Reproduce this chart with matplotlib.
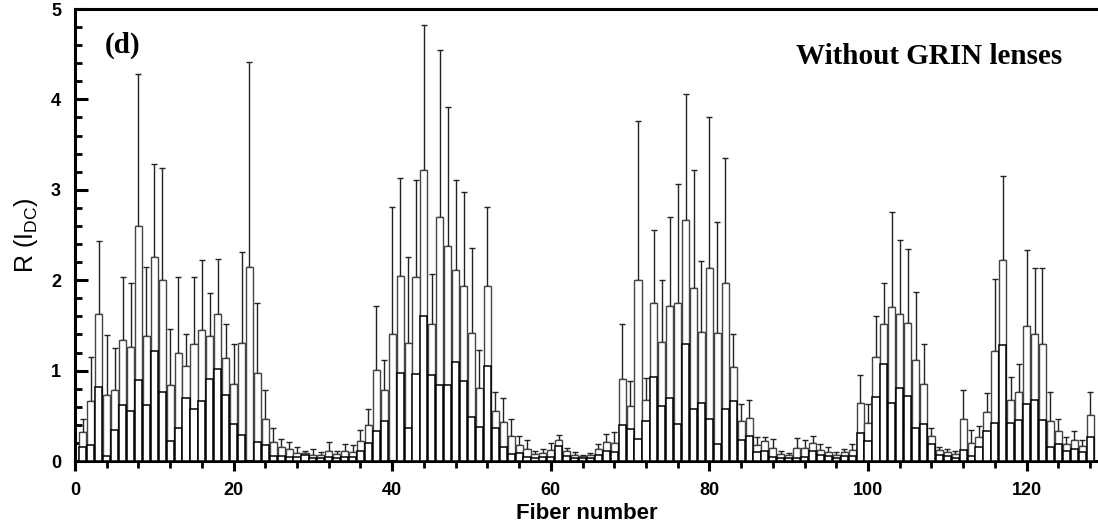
import numpy as np
import matplotlib
matplotlib.use("Agg")
import matplotlib.pyplot as plt
from matplotlib.ticker import MultipleLocator

# fiber index 1..128
fiber = np.arange(1, 129)

# mean R(I_DC) per fiber (tall open bars)
mean_r = [
    0.32, 0.665, 1.63, 0.73, 0.79, 1.34, 1.26, 2.595, 1.38, 2.26,
    2.00, 0.84, 1.20, 1.05, 1.29, 1.45, 1.38, 1.63, 1.135, 0.85,
    1.305, 2.15, 0.97, 0.47, 0.21, 0.15, 0.13, 0.09, 0.09, 0.065,
    0.065, 0.11, 0.08, 0.11, 0.10, 0.22, 0.40, 1.01, 0.78, 1.40,
    2.05, 1.31, 2.04, 3.22, 1.52, 2.70, 2.38, 2.11, 1.94, 1.42,
    0.81, 1.94, 0.555, 0.43, 0.28, 0.18, 0.13, 0.08, 0.09, 0.12,
    0.23, 0.11, 0.065, 0.055, 0.07, 0.13, 0.215, 0.20, 0.905, 0.61,
    2.00, 0.68, 1.745, 1.32, 1.71, 1.745, 2.67, 1.91, 1.43, 2.14,
    1.42, 1.97, 1.035, 0.44, 0.48, 0.18, 0.22, 0.14, 0.08, 0.065,
    0.14, 0.14, 0.20, 0.12, 0.10, 0.07, 0.10, 0.12, 0.64, 0.425,
    1.15, 1.52, 1.70, 1.63, 1.53, 1.12, 0.85, 0.28, 0.12, 0.10,
    0.08, 0.46, 0.20, 0.27, 0.54, 1.22, 2.225, 0.67, 0.76, 1.49,
    1.41, 1.29, 0.44, 0.33, 0.185, 0.23, 0.165, 0.51,
]

# top of the error bar (mean + sd)
err_top = [
    0.47, 1.15, 2.43, 1.39, 1.25, 2.04, 1.97, 4.28, 2.15, 3.29,
    3.24, 1.46, 2.03, 1.41, 2.03, 2.22, 1.86, 2.23, 1.52, 1.29,
    2.31, 4.41, 1.745, 0.78, 0.36, 0.24, 0.21, 0.155, 0.11, 0.13,
    0.10, 0.21, 0.11, 0.185, 0.18, 0.34, 0.58, 1.71, 1.12, 2.81,
    3.13, 2.26, 3.11, 4.82, 2.07, 4.55, 3.92, 3.11, 2.98, 2.36,
    1.23, 2.81, 0.765, 0.70, 0.47, 0.28, 0.23, 0.11, 0.13, 0.20,
    0.29, 0.14, 0.10, 0.07, 0.09, 0.19, 0.30, 0.32, 1.52, 0.89,
    3.76, 0.92, 2.55, 2.00, 2.70, 3.06, 4.06, 3.22, 2.21, 3.81,
    2.64, 3.35, 1.40, 0.63, 0.67, 0.26, 0.26, 0.24, 0.11, 0.09,
    0.25, 0.23, 0.28, 0.185, 0.15, 0.10, 0.13, 0.185, 0.95, 0.63,
    1.60, 1.97, 2.75, 2.45, 2.34, 1.87, 1.29, 0.36, 0.155, 0.13,
    0.11, 0.78, 0.34, 0.39, 0.75, 2.01, 3.15, 0.93, 1.07, 2.33,
    2.13, 2.13, 0.765, 0.47, 0.26, 0.33, 0.23, 0.765,
]

# lower value drawn as an inner bar
inner_r = [
    0.155, 0.18, 0.82, 0.055, 0.34, 0.62, 0.55, 0.895, 0.62, 1.22,
    0.765, 0.22, 0.36, 0.70, 0.57, 0.665, 0.905, 1.02, 0.73, 0.41,
    0.285, 0.0, 0.21, 0.18, 0.055, 0.055, 0.045, 0.04, 0.07, 0.03,
    0.03, 0.04, 0.03, 0.04, 0.04, 0.11, 0.20, 0.33, 0.44, 0.0,
    0.97, 0.36, 0.96, 1.60, 0.95, 0.84, 0.84, 1.09, 0.89, 0.49,
    0.38, 1.05, 0.37, 0.15, 0.08, 0.09, 0.045, 0.03, 0.045, 0.04,
    0.165, 0.05, 0.03, 0.03, 0.03, 0.07, 0.11, 0.10, 0.40, 0.35,
    0.24, 0.44, 0.93, 0.61, 0.70, 0.41, 1.29, 0.58, 0.64, 0.46,
    0.185, 0.57, 0.665, 0.23, 0.28, 0.10, 0.11, 0.045, 0.03, 0.03,
    0.03, 0.045, 0.11, 0.07, 0.05, 0.03, 0.05, 0.06, 0.31, 0.22,
    0.71, 1.07, 0.64, 0.81, 0.72, 0.36, 0.41, 0.19, 0.07, 0.05,
    0.035, 0.12, 0.055, 0.15, 0.33, 0.425, 1.28, 0.425, 0.45, 0.63,
    0.67, 0.45, 0.15, 0.185, 0.11, 0.13, 0.10, 0.26,
]

mean_r = np.array(mean_r)
err_up = np.array(err_top) - mean_r

fig = plt.figure(figsize=(10.98, 5.29), dpi=100)
ax = fig.add_axes([75 / 1098, 68 / 529, 1023 / 1098, 452 / 529])

ax.bar(fiber, mean_r, width=0.9, color="white", edgecolor="#444444",
       linewidth=1.0, zorder=2)
ax.errorbar(fiber, mean_r, yerr=[np.zeros_like(err_up), err_up], fmt="none",
            ecolor="#222222", elinewidth=1.0, capsize=2.5, capthick=1.0,
            zorder=1)
ax.bar(fiber, inner_r, width=0.9, color="white", edgecolor="black",
       linewidth=1.1, zorder=3)

ax.set_xlim(0, 129)
ax.set_ylim(0, 5)
ax.xaxis.set_major_locator(MultipleLocator(20))
ax.xaxis.set_minor_locator(MultipleLocator(4))
ax.yaxis.set_major_locator(MultipleLocator(1))
ax.yaxis.set_minor_locator(MultipleLocator(0.2))

for side in ["left", "bottom", "top"]:
    ax.spines[side].set_linewidth(2.2)
ax.spines["right"].set_visible(False)

ax.tick_params(axis="x", which="major", direction="out", length=7, width=2.2,
               pad=8)
ax.tick_params(axis="x", which="minor", direction="out", length=5, width=2)
ax.tick_params(axis="y", which="major", direction="in", length=9, width=2.2,
               pad=10)
ax.tick_params(axis="y", which="minor", direction="in", length=5, width=2)

for lab in ax.get_xticklabels() + ax.get_yticklabels():
    lab.set_fontfamily("Liberation Sans")
    lab.set_fontweight("bold")
    lab.set_fontsize(13)

ax.set_xlabel("Fiber number", family="Liberation Sans", fontweight="bold",
              fontsize=16, labelpad=3)
ax.set_ylabel(r"R (I$_{\mathregular{DC}}$)", family="Liberation Sans",
              fontsize=18, labelpad=8)

ax.text(3.8, 4.6, "(d)", family="Liberation Serif", fontweight="bold",
        fontsize=21, va="center", ha="left")
ax.text(124.5, 4.48, "Without GRIN lenses", family="Liberation Serif",
        fontweight="bold", fontsize=21, va="center", ha="right")

fig.savefig("out.png", dpi=100)
